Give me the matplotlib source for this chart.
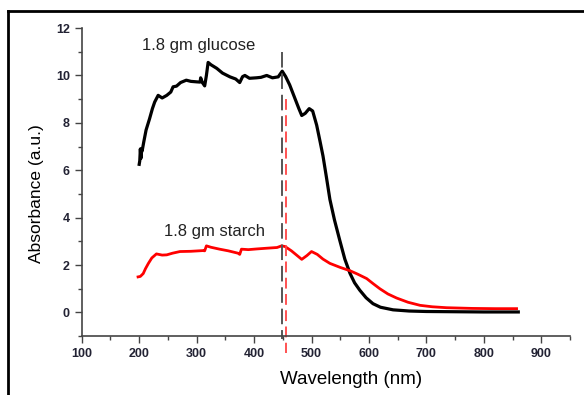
import matplotlib
matplotlib.use('Agg')
import matplotlib.pyplot as plt
from matplotlib.lines import Line2D

# glucose sample (black)
wl_glucose = [200, 201, 202, 203, 204, 205, 208, 212, 218, 223, 227, 233, 240, 248, 255, 259,
              265, 272, 282, 290, 300, 306, 307, 310, 314, 317, 320, 325, 335, 345, 358, 368,
              375, 380, 384, 392, 404, 412, 422, 432, 442, 449, 455, 462, 470, 478, 483, 489,
              496, 502, 509, 515, 520, 526, 532, 540, 549, 558, 567, 575, 584, 595, 607, 620,
              642, 670, 700, 750, 800, 860]
abs_glucose = [6.25, 6.4, 6.9, 6.5, 6.9, 6.8, 7.2, 7.7, 8.17, 8.6, 8.88, 9.16, 9.05, 9.16, 9.3, 9.52,
               9.55, 9.7, 9.8, 9.75, 9.73, 9.72, 9.9, 9.7, 9.56, 10.0, 10.55, 10.45, 10.3, 10.1, 9.94, 9.85,
               9.70, 9.95, 10.0, 9.88, 9.9, 9.92, 10.0, 9.9, 9.94, 10.18, 9.95, 9.6, 9.1, 8.6, 8.31, 8.4,
               8.6, 8.5, 7.9, 7.2, 6.6, 5.7, 4.77, 3.9, 3.06, 2.25, 1.65, 1.25, 0.94, 0.62, 0.37, 0.22,
               0.11, 0.06, 0.04, 0.03, 0.02, 0.02]

# starch sample (red)
wl_starch = [198, 202, 207, 211, 216, 222, 230, 240, 248, 258, 271, 290, 311, 314, 317, 325,
             340, 355, 372, 375, 378, 390, 405, 422, 440, 448, 454, 465, 475, 483, 492, 500,
             510, 520, 532, 550, 567, 580, 596, 607, 619, 633, 648, 668, 689, 710, 735, 780,
             820, 857]
abs_starch = [1.50, 1.52, 1.64, 1.85, 2.07, 2.3, 2.47, 2.42, 2.43, 2.5, 2.57, 2.58, 2.61, 2.6, 2.81, 2.75,
              2.67, 2.6, 2.50, 2.45, 2.67, 2.65, 2.68, 2.71, 2.74, 2.81, 2.78, 2.6, 2.4, 2.24, 2.4, 2.57,
              2.45, 2.25, 2.07, 1.9, 1.76, 1.62, 1.43, 1.22, 1.0, 0.78, 0.61, 0.43, 0.30, 0.24, 0.20, 0.17,
              0.16, 0.16]

edge_glucose = 449
edge_starch = 455

plt.rcParams['font.family'] = ['Liberation Sans', 'DejaVu Sans']

fig = plt.figure(figsize=(5.84, 3.95), dpi=100)
ax = fig.add_axes([0.140, 0.149, 0.836, 0.780])

ax.plot(wl_glucose, abs_glucose, color='black', lw=2.3, solid_joinstyle='round')
ax.plot(wl_starch, abs_starch, color='#ff0000', lw=2.0, solid_joinstyle='round')

ax.plot([edge_glucose, edge_glucose], [11.0, -1.1], color='#555555', lw=1.4,
        dashes=(8, 3), clip_on=False)
ax.plot([edge_starch, edge_starch], [9.0, -1.7], color='#ff4444', lw=1.3,
        dashes=(6, 3), clip_on=False)

ax.text(304, 11.25, '1.8 gm glucose', ha='center', va='center', fontsize=12, color='#222222')
ax.text(331, 3.4, '1.8 gm starch', ha='center', va='center', fontsize=12, color='#222222')

ax.set_xlim(100, 950)
ax.set_ylim(-1, 12)
ax.set_xticks(range(100, 901, 100))
ax.set_xticks(range(150, 951, 100), minor=True)
ax.set_yticks(range(0, 13, 2))
ax.set_yticks(range(-1, 12, 2), minor=True)

for s in ['top', 'right']:
    ax.spines[s].set_visible(False)
for s in ['left', 'bottom']:
    ax.spines[s].set_color('#444444')
    ax.spines[s].set_linewidth(1.2)

ax.tick_params(which='both', direction='out', color='#444444', width=1.0)
ax.tick_params(which='major', length=5)
ax.tick_params(which='minor', length=3)
for lab in ax.get_xticklabels() + ax.get_yticklabels():
    lab.set_fontweight('bold')
    lab.set_fontsize(9)
    lab.set_color('#222233')

fig.text(0.601, 0.038, 'Wavelength (nm)', ha='center', va='center', fontsize=13.5)
fig.text(0.062, 0.509, 'Absorbance (a.u.)', ha='center', va='center', fontsize=12.5, rotation=90)

# outer frame
fig.add_artist(Line2D([8 / 584, 8 / 584], [0, 1 - 11 / 395], transform=fig.transFigure,
                      color='black', lw=2))
fig.add_artist(Line2D([8 / 584, 1], [1 - 11 / 395, 1 - 11 / 395], transform=fig.transFigure,
                      color='black', lw=2))

fig.savefig('out.png', dpi=100)
